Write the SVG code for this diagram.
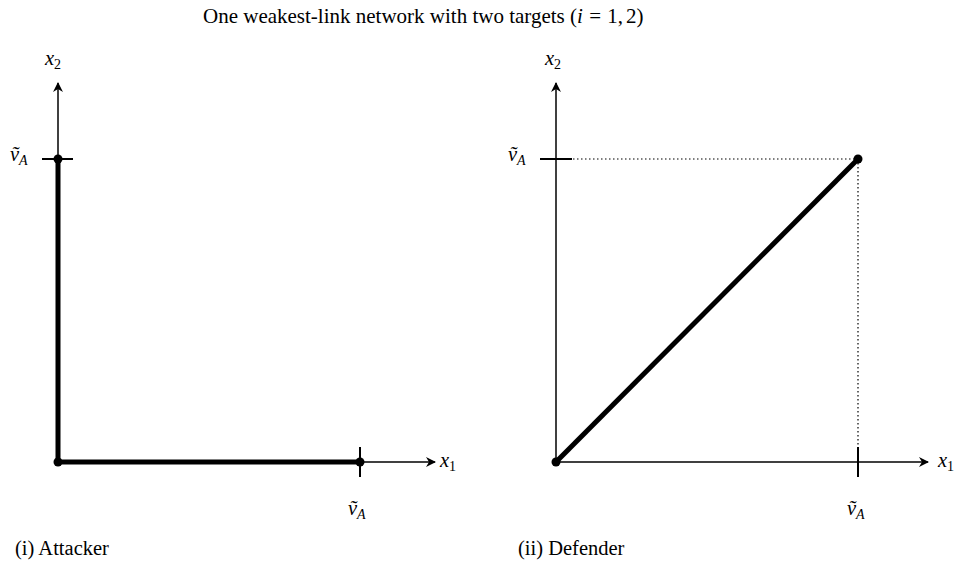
<svg xmlns="http://www.w3.org/2000/svg" width="959" height="565" viewBox="0 0 959 565">
<style>
text{font-family:"Liberation Serif","Times New Roman",serif;font-size:20.5px;fill:#000}
.m{font-style:italic}
.s{font-size:14px}
.ax{stroke:#000;stroke-width:1.5;fill:none}
.tk{stroke:#000;stroke-width:2;fill:none}
.th{stroke:#000;stroke-width:5;fill:none;stroke-linecap:butt}
.dt{stroke:#000;stroke-width:1.2;stroke-dasharray:1.5 2.5;fill:none}
</style>
<defs>
<marker id="ar" viewBox="0 0 10 10" refX="9" refY="5" markerWidth="10" markerHeight="10" markerUnits="userSpaceOnUse" orient="auto">
<path d="M0,0 L10,5 L0,10 L3,5 Z" fill="#000"/>
</marker>
</defs>
<rect width="959" height="565" fill="#fff"/>
<text x="203" y="23" style="font-size:21px">One weakest-link network with two targets (<tspan class="m">i</tspan> <tspan dx="1">= </tspan><tspan dx="1">1,</tspan><tspan dx="3">2)</tspan></text>
<g id="attacker">
<g id="connectors-attacker">
<line class="ax" x1="58" y1="462" x2="58" y2="83" marker-end="url(#ar)"/>
<line class="ax" x1="58" y1="462" x2="435" y2="462" marker-end="url(#ar)"/>
<line class="tk" x1="42" y1="159" x2="73" y2="159"/>
<line class="tk" x1="360" y1="447" x2="360" y2="477"/>
<polyline class="th" points="58,159 58,462 360,462"/>
</g>
<circle cx="58" cy="159" r="4.5"/>
<circle cx="58" cy="462" r="4.5"/>
<circle cx="360" cy="462" r="4.5"/>
<text class="m" x="45" y="65">x<tspan class="s" dy="4" font-style="normal">2</tspan></text>
<text class="m" x="440" y="467">x<tspan class="s" dy="4" font-style="normal">1</tspan></text>
<text class="m" x="10" y="161">ṽ<tspan class="s" dy="4">A</tspan></text>
<text class="m" x="348" y="515">ṽ<tspan class="s" dy="4">A</tspan></text>
<text x="15" y="555">(i) Attacker</text>
</g>
<g id="defender">
<g id="connectors-defender">
<line class="ax" x1="556" y1="462" x2="556" y2="83" marker-end="url(#ar)"/>
<line class="ax" x1="556" y1="462" x2="928" y2="462" marker-end="url(#ar)"/>
<line class="tk" x1="540" y1="159" x2="572" y2="159"/>
<line class="tk" x1="858" y1="447" x2="858" y2="477"/>
<line class="dt" x1="573" y1="159" x2="858" y2="159"/>
<line class="dt" x1="858" y1="159" x2="858" y2="447"/>
<line class="th" x1="556" y1="462" x2="858" y2="159"/>
</g>
<circle cx="556" cy="462" r="4.5"/>
<circle cx="858" cy="159" r="4.5"/>
<text class="m" x="545" y="65">x<tspan class="s" dy="4" font-style="normal">2</tspan></text>
<text class="m" x="938" y="467">x<tspan class="s" dy="4" font-style="normal">1</tspan></text>
<text class="m" x="508" y="161">ṽ<tspan class="s" dy="4">A</tspan></text>
<text class="m" x="847" y="515">ṽ<tspan class="s" dy="4">A</tspan></text>
<text x="518" y="555">(ii) Defender</text>
</g>
</svg>
